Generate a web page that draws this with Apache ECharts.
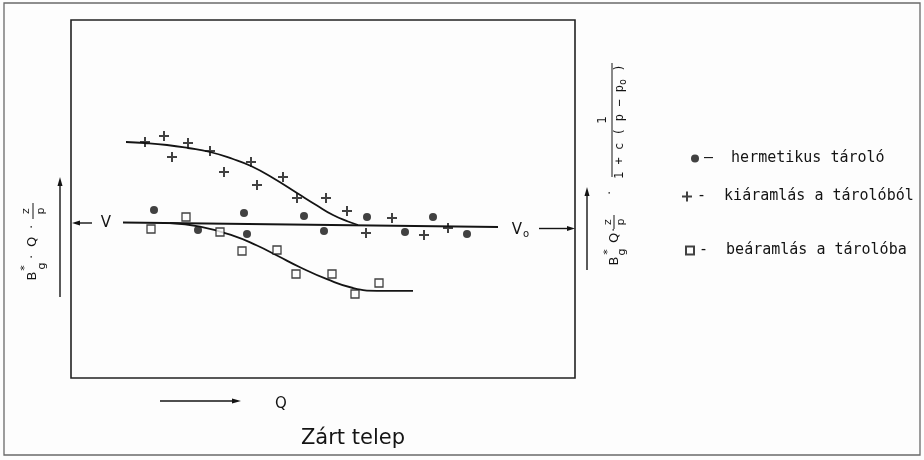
<!DOCTYPE html>
<html><head><meta charset="utf-8">
<script src="https://cdn.jsdelivr.net/npm/echarts@6/dist/echarts.min.js"></script>
<style>html,body{margin:0;padding:0;background:#fdfdfd}#c{width:924px;height:460px}</style>
</head><body><div id="c"></div>
<script>
// Values (arbitrary units: x = Q, y = Bg*·Q·z/p)
const seriesNames = ['hermetikus tároló', 'kiáramlás a tárolóból', 'beáramlás a tárolóba'];
const dotX = [83,173,233,296,362,127,176,253,334,396];
const dotY = [168,165,162,161,161,148,144,147,146,144];
const plusX = [74,93,117,101,139,153,180,186,212,226,255,276,321,295,353,377];
const plusY = [236,242,235,221,227,206,216,193,201,180,180,167,160,145,143,150];
const squareX = [80,115,149,171,206,225,261,284,308];
const squareY = [149,161,146,127,128,104,104,84,95];
const outflowFitX = [55,74,96,117,139,162,180,202,226,246,262,277,287];
const outflowFitY = [236,235,233,230,226,219,212,200,185,172.5,163,156.5,153];
const baselineX = [52,427];
const baselineY = [155.5,151];
const inflowFitX = [99,129,162,186,206,229,256,282,306,342];
const inflowFitY = [155,151.4,142.4,132.5,122.5,110.8,98.8,90,87.2,87.2];

const zip = (xs, ys) => xs.map((x, i) => [x, ys[i]]);
const INK = '#141414';
const MONO = 'DejaVu Sans Mono';
const SANS = 'DejaVu Sans';
const PLUS = 'path://M4,0H6V4H10V6H6V10H4V6H0V4H4Z';

function rt(text, x, y, size, family) {
  return {type:'text', x:x, y:y, rotation:Math.PI/2, z:10,
    style:{text:text, font:(size||13)+'px "'+(family||SANS)+'"', fill:INK,
      textAlign:'center', textVerticalAlign:'middle', align:'center', verticalAlign:'middle'}};
}
function txt(text, x, y, size, family) {
  return {type:'text', x:x, y:y, z:10,
    style:{text:text, font:(size||15)+'px "'+(family||SANS)+'"', fill:INK,
      textAlign:'center', textVerticalAlign:'middle', align:'center', verticalAlign:'middle'}};
}
function seg(x1,y1,x2,y2,w) {
  return {type:'line', z:10, shape:{x1:x1,y1:y1,x2:x2,y2:y2}, style:{stroke:INK, lineWidth:w||1.4}};
}
function tri(points) {
  return {type:'polygon', z:10, shape:{points:points}, style:{fill:INK}};
}

const graphics = [
  {type:'rect', shape:{x:4, y:3, width:916, height:452}, style:{fill:'none', stroke:'#6a6a6a', lineWidth:1.3}},
  // V arrow (left)
  seg(92,223,76,223), tri([[72,223],[80,220.5],[80,225.5]]), txt('V',106,223,15),
  // V0 arrow (right)
  txt('V',517,230,15), txt('o',526,234,10), seg(539,228.5,569,228.5), tri([[575,228.5],[567,226],[567,231]]),
  // Left vertical arrow + label
  seg(60,297,60,184), tri([[60,177],[57.5,186],[62.5,186]]),
  rt('B',33,276), rt('*',25,268,11), rt('g',42,266,11), rt('·',33,257), rt('Q',33,242), rt('·',33,227),
  rt('z',26,211,11), seg(33,203,33,219,1), rt('p',41,211,11),
  // Right vertical arrow + label
  seg(587,270,587,194), tri([[587,187],[584.5,196],[589.5,196]]),
  rt('B',615,261), rt('*',608,252,11), rt('g',622,252,11), rt('Q',615,238), rt('·',615,230),
  rt('z',608,222,11), seg(614,215,614,229,1), rt('p',621,222,11), rt('·',611,193),
  rt('1',603,120,12), seg(612,63,612,177,1),
  rt('1 + c ( p − p',620,132,12,MONO), rt('o',623,82,10,MONO), rt(')',620,68,12,MONO),
  // Q axis arrow
  seg(160,401,234,401), tri([[241,401],[232,398.5],[232,403.5]]), txt('Q',281,404,15)
];

const chart = echarts.init(document.getElementById('c'), null, {renderer:'canvas'});
chart.setOption({
  backgroundColor:'#fdfdfd',
  animation:false,
  title:{text:'Zárt telep', left:348, top:423, textAlign:'center',
    textStyle:{fontFamily:SANS, fontSize:21, fontWeight:'normal', color:INK}},
  grid:{left:71, top:20, width:504, height:358, show:true, borderColor:'#222', borderWidth:1.6, backgroundColor:'transparent'},
  xAxis:{type:'value', min:0, max:504, show:false},
  yAxis:{type:'value', min:0, max:358, show:false},
  legend:[
    {data:[seriesNames[0]], left:686, top:146, itemWidth:8, itemHeight:8, formatter:'—  {name}',
      textStyle:{fontFamily:MONO, fontSize:15, color:INK}},
    {data:[seriesNames[1]], left:677, top:184, itemWidth:10, itemHeight:10, formatter:'-  {name}',
      textStyle:{fontFamily:MONO, fontSize:15, color:INK}},
    {data:[seriesNames[2]], left:680, top:238, itemWidth:8, itemHeight:8, formatter:'-  {name}',
      textStyle:{fontFamily:MONO, fontSize:15, color:INK}}
  ],
  series:[
    {name:'baseline', type:'line', data:zip(baselineX, baselineY), showSymbol:false, symbol:'none',
      lineStyle:{color:INK, width:1.8}, z:2},
    {name:'outflow fit', type:'line', data:zip(outflowFitX, outflowFitY), smooth:true,
      showSymbol:false, symbol:'none', lineStyle:{color:INK, width:1.8}, z:2},
    {name:'inflow fit', type:'line', data:zip(inflowFitX, inflowFitY), smooth:true,
      showSymbol:false, symbol:'none', lineStyle:{color:INK, width:1.8}, z:2},
    {name:seriesNames[0], type:'scatter', data:zip(dotX, dotY), symbol:'circle', symbolSize:8,
      itemStyle:{color:'#111'}, z:3},
    {name:seriesNames[1], type:'scatter', data:zip(plusX, plusY), symbol:PLUS, symbolSize:10,
      itemStyle:{color:'#111'}, z:3},
    {name:seriesNames[2], type:'scatter', data:zip(squareX, squareY), symbol:'rect', symbolSize:8,
      itemStyle:{color:'#fdfdfd', borderColor:'#111', borderWidth:1.3}, z:3}
  ],
  graphic:graphics
});
</script></body></html>
